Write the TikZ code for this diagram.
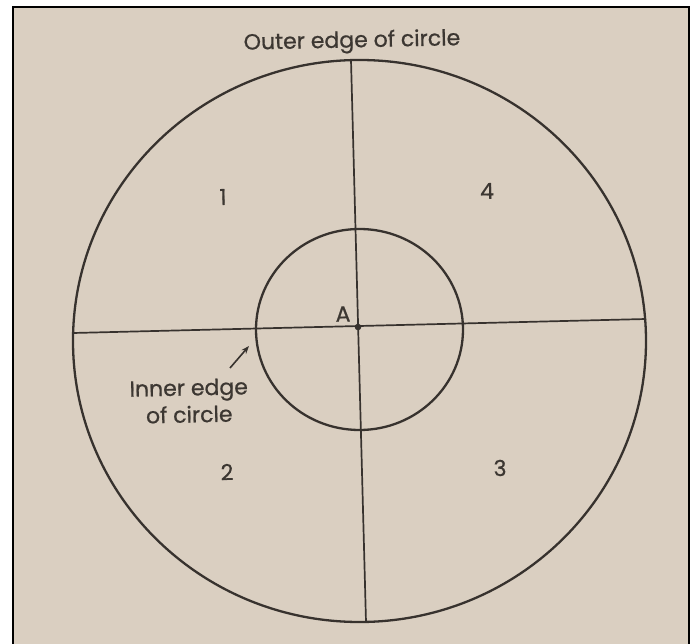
\documentclass[tikz,border=0pt]{standalone}
\usepackage{fontspec}
\setmainfont{Poppins}
\newfontfamily\lblfont{Poppins}[FakeBold=0.7]
\usetikzlibrary{arrows.meta}
\definecolor{paper}{RGB}{218,207,193}
\definecolor{ink}{RGB}{55,50,46}
\definecolor{inktext}{RGB}{60,55,50}
\tikzset{
  lbl/.style={text=inktext, font=\lblfont\fontsize{22}{27}\selectfont, inner sep=0pt, rotate=1.2},
  penline/.style={draw=ink, line width=1.7pt},
  rim/.style={draw=ink, line width=2.3pt}
}
\begin{document}
\begin{tikzpicture}[x=1pt,y=-1pt]
\useasboundingbox (0,0) rectangle (697,644);
\fill[white] (0,0) rectangle (697,644);
\fill[paper] (13,7) rectangle (689,644);
\draw[line width=2pt, black] (13,645) -- (13,7) -- (689,7) -- (689,645);
% geometry
\coordinate (A) at (358,327);
\coordinate (hl) at (73,333);
\coordinate (hr) at (646,319);
\coordinate (vt) at (351,60);
\coordinate (vb) at (366,622);
\coordinate (oc) at (359.5,341);
\coordinate (ic) at (359.5,329.5);
\draw[rim] (oc) ellipse [x radius=286.5pt, y radius=281pt];
\draw[rim] (ic) ellipse [x radius=103.5pt, y radius=100.5pt];
\draw[penline] (hl) -- (hr);
\draw[penline] (vt) -- (vb);
\fill[ink] (A) circle [radius=3.3pt];
% labels
\node[lbl] (outer) at (352,42) {Outer edge of circle};
\node[lbl] (q1) at (223,197) {1};
\node[lbl] (q4) at (487,191) {4};
\node[lbl] (q2) at (227,472) {2};
\node[lbl] (q3) at (500,468) {3};
\node[lbl] (la) at (343,314) {A};
\node[lbl, align=center] (inner) at (189,401) {Inner edge\\of circle};
\coordinate (tail) at (230,368);
\coordinate (head) at (249,346);
\draw[ink, line width=1.6pt, -{Stealth[length=8pt,width=6pt]}] (tail) -- (head);
\end{tikzpicture}
\end{document}
